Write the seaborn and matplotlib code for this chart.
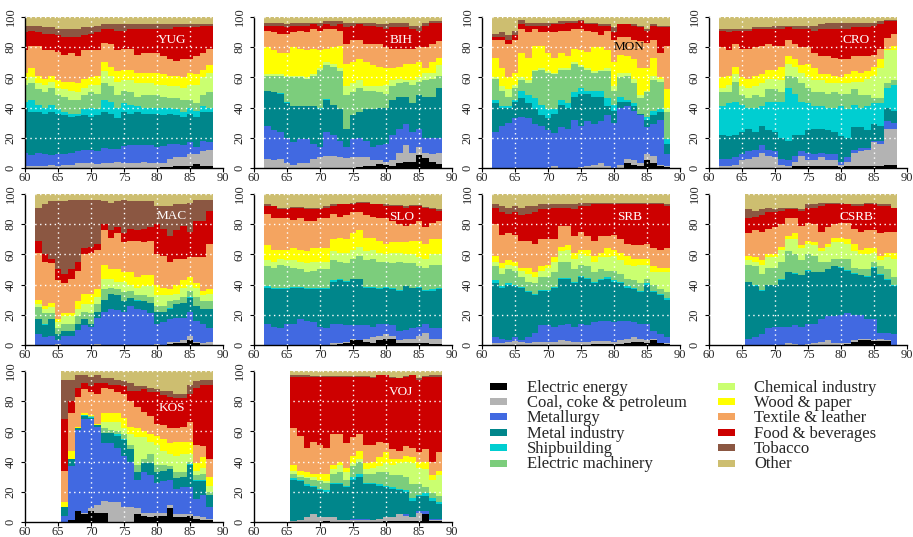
import numpy as np
import matplotlib
matplotlib.use('Agg')
import matplotlib.pyplot as plt
from matplotlib.patches import Rectangle
import seaborn as sns

# %% data
sectors = ['Electric energy', 'Coal, coke & petroleum', 'Metallurgy', 'Metal industry',
           'Shipbuilding', 'Electric machinery', 'Chemical industry', 'Wood & paper',
           'Textile & leather', 'Food & beverages', 'Tobacco', 'Other']
sector_colors = ['#000000', '#B3B3B3', '#4169E1', '#00868B', '#00CED1', '#7CCD7C',
                 '#CAFF70', '#FFFF00', '#F4A460', '#CD0000', '#8B5742', '#CDBE70']

# cumulative share (%) at the top of each sector band, sectors stacked bottom -> top
# (one row per sector, Electric energy .. Tobacco); 'Other' fills the rest up to 100
YUG_start = 1960
YUG = [
    [0, 0, 0, 0, 0, 0, 0, 0, 0, 0, 0, 0, 0, 0, 0, 0, 0, 0, 0, 0, 0.3, 0.5, 0.8, 1.5, 1.5, 1.5, 2.5, 1.5, 1.5],
    [1.5, 1.5, 1.5, 1, 2, 1.5, 2, 2, 3.5, 3.5, 3.5, 2.5, 3, 3.5, 4, 3.5, 3.5, 3.5, 4, 3.5, 3, 3.5, 6, 7.5, 7.5, 9.5, 9, 11.5, 12],
    [10, 8.5, 10, 9, 8.5, 9.5, 9.5, 10, 11, 12, 12, 11, 13, 12.5, 12.5, 14.5, 15, 15, 15, 15, 14, 14.5, 16, 16, 15.5, 17.5, 14, 18, 17],
    [40, 37, 37, 36, 37, 36, 35, 34, 34.5, 35, 34, 35, 37, 36, 33, 37, 36, 37, 36, 36, 36, 35, 36, 35, 34, 36, 33.5, 37, 37],
    [44, 45, 42, 40, 42, 39, 37, 36, 36, 39, 40, 39, 45, 44, 40, 43, 42, 41, 40, 40, 40, 40, 40, 39, 37, 40, 38, 41, 40],
    [55, 56, 52, 50, 53, 48, 47, 45, 45, 48, 50, 49, 56, 54, 48, 51, 50, 47, 48, 48, 48, 47, 46, 46, 45, 45, 43, 48, 50],
    [58, 60, 56, 55, 57, 53, 52, 51, 50, 53, 55, 55, 64, 61, 57, 58, 58, 56, 56, 56, 55, 55, 54, 54, 53, 55, 55, 60, 63],
    [63, 66, 61, 59, 61, 58, 57, 57, 56, 59, 60, 61, 70, 67, 64, 65, 65, 63, 63, 63, 63, 62, 61, 61, 60, 63, 62, 65, 68],
    [78, 81, 81, 78, 78, 77, 75, 76, 74, 78, 78, 78, 83, 82, 78, 79, 79, 75, 76, 76, 76, 74, 72, 71, 72, 72, 74, 76, 79],
    [90, 91, 90, 89, 89, 88, 87, 87, 87, 88, 89, 90, 92, 92, 91, 91, 92, 92, 92, 92, 92, 92, 92, 93, 93, 93, 93, 94, 94],
    [94, 94, 94, 93, 93, 92, 92, 92, 92, 93, 93, 94, 95, 95, 95, 95, 95, 95, 95, 95, 95, 95, 95, 95, 95, 95, 95, 95, 95],
]

BIH_start = 1962
BIH = [
    [0, 0, 0, 0, 0, 0, 0, 0, 0, 0, 0, 0, 0, 0.3, 0.5, 1, 1.5, 2.5, 2, 1.5, 3, 4, 4, 8.5, 6.5, 4, 2.5],
    [6, 5, 6, 3, 2, 3.5, 3, 6, 7, 8, 8, 7, 6.5, 7, 7, 7, 5, 5.5, 4, 5.5, 10, 15.5, 10, 14, 10, 9, 10],
    [28, 25, 24, 20, 17, 19, 19, 16, 14, 24, 22, 18, 14, 19, 20, 18, 14, 15, 16, 22, 26, 29, 24, 26, 20, 20, 20],
    [51, 50, 49, 43, 41, 41, 41, 41, 39, 45, 42, 39, 26, 35, 37, 39, 39, 40, 40, 45, 47, 47, 43, 48, 47, 47, 53],
    [51, 50.5, 49.5, 43.5, 41, 41, 41, 41, 40, 45.5, 42, 39, 26, 35, 37, 39, 39, 40, 40, 45, 47, 47, 43, 48, 47, 47, 53],
    [61, 61, 61, 60, 60, 60, 59, 61, 65, 68, 67, 64, 48, 50, 53, 51, 51, 50, 49, 54, 56, 57, 55, 57, 58, 59, 61],
    [62, 62, 62, 61, 61, 61, 60, 62, 66, 70, 69, 66, 54, 56, 58, 54, 54, 54, 55, 58, 59, 58, 58, 60, 63, 63, 68],
    [80, 78, 76, 76, 80, 79, 78, 79, 78, 79, 80, 81, 69, 70, 72, 70, 68, 67, 66, 66, 67, 69, 69, 70, 66, 70, 73],
    [91, 90, 89, 89, 90, 91, 90, 92, 91, 92, 92, 91, 82, 85, 85, 82, 82, 82, 80, 79, 79, 79, 79, 80, 80, 82, 84],
    [94, 94, 94, 93, 94, 94, 94, 95, 94, 95, 94, 95, 93, 94, 95, 94, 94, 93, 92, 93, 93, 93, 92, 91, 94, 96, 96],
    [96, 96, 96, 95, 96, 96, 96, 96, 96, 97, 97, 97, 96, 96, 96, 96, 96, 95, 95, 96, 96, 96, 94, 94, 96, 97, 97],
]

MON_start = 1962
MON = [
    [0, 0, 0, 0, 0, 0, 0, 0, 0, 0, 0, 0, 0, 0, 0, 0, 0, 0, 0, 0, 3, 2, 1, 5, 3, 1, 0.5],
    [0, 0, 0, 0, 0, 0, 0, 0, 0, 1, 0, 0, 0, 0.5, 1, 2, 3, 1, 0, 2, 6, 5, 3, 9, 8, 2, 1],
    [24, 28, 30, 33, 34, 33, 29, 28, 25, 23, 27, 26, 32, 28, 31, 29, 31, 35, 30, 40, 41, 38, 35, 27, 29, 32, 9],
    [43, 40, 40, 44, 46, 43, 39, 35, 33, 36, 42, 40, 47, 49, 49, 47, 47, 41, 38, 44, 44, 41, 36, 32, 35, 37, 16],
    [45, 41, 41, 45, 51, 48, 46, 42, 39, 39, 45, 43, 50, 53, 51, 51, 51, 46, 42, 47, 45, 43, 36, 34, 38, 39, 19],
    [59, 51, 47, 53, 58, 56, 64, 65, 63, 62, 65, 65, 69, 67, 65, 63, 64, 64, 51, 60, 61, 56, 46, 50, 58, 57, 37],
    [60, 54, 52, 55, 60, 58, 65, 66, 64, 63, 66, 66, 70, 68, 66, 64, 65, 66, 54, 63, 63, 59, 48, 51, 61, 59, 40],
    [73, 66, 60, 63, 76, 73, 81, 81, 76, 73, 76, 74, 79, 78, 77, 80, 80, 78, 70, 75, 74, 72, 66, 66, 73, 60, 52],
    [85, 85, 82, 85, 92, 90, 92, 90, 90, 90, 91, 91, 92, 92, 91, 90, 88, 91, 85, 87, 87, 85, 84, 83, 85, 76, 81],
    [87, 87, 85, 88, 95, 94, 94, 94, 94, 95, 95, 96, 96, 97, 95, 95, 94, 94, 90, 95, 95, 94, 93, 91, 94, 93, 93],
    [89, 90, 88, 91, 98, 96, 96, 96, 96, 96, 97, 97, 97, 98, 96, 96, 95, 95, 93, 95, 95, 95, 94, 92, 95, 94, 94],
]

CRO_start = 1962
CRO = [
    [0, 0, 0, 0, 0, 0, 0, 0, 0, 0, 0, 1, 1, 1, 1, 1, 1, 1, 0.5, 1, 1, 1, 1, 1, 1.5, 2, 2],
    [1, 1.5, 2, 5, 6, 7, 10, 8, 7, 2, 1, 4, 8, 5, 5, 7, 5, 5, 2, 4, 10, 11, 12, 17, 16, 26, 26],
    [6, 6, 7, 9, 11, 12, 15, 12, 11, 6, 5, 8, 11, 10, 9, 10, 9, 9, 4, 7, 12, 13, 13, 18, 18, 31, 30],
    [22, 21, 22, 24, 26, 24, 28, 25, 24, 20, 18, 22, 22, 25, 26, 26, 25, 24, 21, 20, 27, 27, 25, 29, 28, 40, 38],
    [41, 43, 44, 42, 40, 40, 41, 44, 44, 44, 53, 49, 44, 43, 41, 41, 40, 40, 41, 39, 42, 40, 41, 43, 43, 53, 55],
    [50, 50, 57, 48, 46, 48, 47, 52, 52, 50, 61, 60, 56, 53, 50, 50, 49, 50, 49, 49, 52, 48, 48, 46, 46, 56, 58],
    [53, 55, 62, 54, 53, 54, 56, 59, 59, 58, 69, 67, 63, 60, 58, 58, 56, 56, 56, 56, 57, 57, 59, 61, 66, 78, 78],
    [60, 61, 67, 60, 59, 61, 62, 65, 65, 67, 74, 72, 68, 69, 66, 62, 62, 61, 60, 62, 64, 63, 64, 67, 72, 79, 81],
    [80, 78, 82, 79, 79, 80, 81, 82, 81, 81, 85, 82, 80, 80, 76, 74, 74, 73, 72, 72, 74, 74, 74, 75, 79, 86, 89],
    [91, 90, 91, 91, 91, 92, 92, 92, 92, 92, 93, 92, 92, 92, 91, 92, 92, 92, 92, 92, 93, 93, 93, 94, 95, 97, 97],
    [92, 92, 92, 92, 92, 93, 93, 93, 94, 94, 94, 94, 94, 94, 94, 95, 96, 96, 96, 96, 96, 96, 96, 96, 97, 98, 98],
]

MAC_start = 1962
MAC = [
    [0, 0, 0, 0, 0, 0, 0, 0, 0, 0, 0, 0, 0, 0, 0, 0, 0, 0, 0, 0, 0.5, 1, 1.5, 3, 1, 0, 0],
    [0, 0, 0, 0.5, 0, 0, 0, 0, 0, 0.5, 0, 0, 0, 0, 0, 0, 0, 0, 0.5, 0, 2, 2, 3, 6, 2, 1, 2],
    [7, 5, 6, 3, 6, 6, 10, 13, 12, 18, 22, 24, 23, 22, 26, 24, 23, 21, 14, 15, 17, 18, 18, 22, 16, 14, 11],
    [17, 13, 17, 7, 9, 9, 14, 17, 14, 22, 30, 34, 33, 29, 31, 29, 29, 28, 22, 22, 24, 27, 28, 31, 26, 24, 24],
    [17.5, 14, 17.5, 7, 9, 9, 14, 17, 14, 22, 30, 34, 33, 29, 31, 29.5, 29, 28, 22, 22, 24.5, 27, 28, 32, 26, 24, 24],
    [25, 21, 21, 11, 14, 14, 19, 22, 21, 27, 37, 38, 37, 35, 36, 33, 33, 32, 26, 26, 29, 30, 32, 36, 32, 29, 29],
    [27, 24, 25, 15, 19, 19, 24, 27, 27, 32, 44, 44, 42, 42, 40, 38, 39, 39, 33, 33, 33, 34, 38, 40, 38, 33, 34],
    [30, 26, 28, 17, 21, 21, 29, 34, 34, 37, 53, 50, 50, 48, 48, 45, 46, 46, 40, 38, 37, 40, 43, 45, 41, 36, 37],
    [61, 55, 54, 43, 41, 44, 49, 60, 61, 63, 76, 71, 74, 68, 69, 69, 68, 69, 60, 59, 55, 57, 57, 58, 58, 58, 67],
    [69, 60, 57, 50, 47, 50, 55, 64, 65, 67, 80, 76, 78, 74, 77, 76, 77, 78, 80, 77, 72, 76, 79, 75, 82, 82, 89],
    [91, 93, 95, 95, 95, 96, 96, 96, 96, 96, 95, 94, 95, 96, 95, 95, 95, 95, 92, 92, 92, 93, 93, 94, 96, 96, 96],
]

SLO_start = 1962
SLO = [
    [0, 0, 0, 0, 0, 0, 0, 0, 0, 0, 0.3, 0.5, 1, 3, 3, 2, 1, 3, 4, 4, 1, 1, 1, 1.5, 1, 0.5, 0.5],
    [0, 0, 0, 0, 0, 0, 0, 0, 0, 0, 1, 1.5, 2, 4, 3.5, 4, 5, 6, 7, 6, 3, 4, 4, 6, 8, 4, 4],
    [14, 12, 11, 14, 14, 17, 16, 15, 12, 11, 14, 14, 13, 13, 13, 13, 12, 14, 14, 13, 9, 10, 11, 12, 14, 11, 11],
    [38, 37, 37, 37, 38, 38, 37, 37, 37, 37, 42, 43, 42, 44, 44, 38, 38, 37, 38, 37, 36, 39, 38, 38, 36, 36, 37],
    [39, 38, 37.5, 38, 38.5, 38.5, 37.5, 37.5, 37.5, 37.5, 43, 43.5, 42.5, 44, 44, 38.5, 38.5, 38, 38.5, 37.5, 36.5, 39, 38, 38.5, 36.5, 37, 38],
    [52, 51, 53, 52, 51, 50, 48, 49, 50, 50, 56, 55, 54, 57, 59, 56, 57, 55, 55, 54, 55, 54, 54, 52, 51, 53, 53],
    [56, 55, 57, 56, 56, 55, 54, 55, 55, 55, 62, 61, 61, 63, 65, 62, 63, 61, 60, 61, 61, 60, 60, 58, 57, 60, 60],
    [66, 63, 63, 63, 64, 63, 62, 64, 64, 64, 70, 71, 70, 74, 76, 71, 71, 69, 67, 68, 68, 68, 69, 69, 67, 70, 70],
    [87, 84, 84, 84, 83, 84, 82, 82, 84, 84, 87, 85, 86, 88, 88, 86, 85, 84, 84, 82, 80, 79, 80, 82, 78, 81, 82],
    [92, 92, 90, 90, 91, 91, 90, 90, 90, 91, 92, 93, 93, 93, 94, 94, 93, 93, 92, 92, 92, 91, 92, 92, 91, 90, 89],
    [93, 92, 90.5, 90.5, 91.5, 91.5, 91, 91, 91, 92, 93, 93.5, 93.5, 94, 94.5, 94.5, 93.5, 93.5, 93, 92.5, 92.5, 92, 92.5, 92.5, 91.5, 90.5, 90],
]

SRB_start = 1962
SRB = [
    [0, 0, 0, 0, 0, 0, 0, 0, 0, 0, 0, 0, 0, 0, 0.3, 0.5, 0.5, 0.5, 0.5, 0.5, 1, 2, 2, 1.5, 3, 1, 0.5],
    [1, 1.5, 2, 2.5, 2, 1.5, 2, 2, 2, 2, 3, 2.5, 2, 2, 2, 2.5, 2.5, 2.5, 2, 3.5, 4, 5, 4, 3.5, 4, 1.5, 1],
    [5, 4, 3, 5, 3, 5, 8, 13, 13, 12, 13, 14, 12, 14, 13, 15, 16, 16, 15, 16, 16, 15, 14, 14, 9, 7, 5],
    [41, 38, 40, 39, 38, 35, 33, 36, 36, 38, 44, 44, 41, 45, 44, 41, 43, 44, 42, 41, 38, 37, 35, 40, 35, 33, 30],
    [43, 39, 41, 39.5, 38.5, 35.5, 33.5, 36.5, 36.5, 38.5, 44.5, 44.5, 41.5, 45.5, 44.5, 42, 44, 45, 43, 42, 39, 38, 35.5, 41, 35.5, 34, 31],
    [52, 47, 50, 49, 45, 42, 41, 45, 45, 48, 55, 55, 50, 53, 52, 48, 50, 49, 49, 47, 44, 43, 41, 44, 40, 37, 35],
    [55, 51, 53, 52, 49, 47, 45, 49, 51, 55, 62, 63, 57, 60, 59, 55, 58, 58, 59, 56, 53, 52, 53, 53, 48, 48, 48],
    [59, 54, 56, 55, 51, 51, 48, 52, 53, 58, 65, 66, 61, 63, 63, 59, 61, 64, 63, 61, 59, 57, 57, 57, 52, 51, 51],
    [80, 73, 74, 73, 69, 69, 67, 70, 70, 70, 79, 79, 72, 75, 72, 69, 72, 72, 73, 70, 67, 66, 66, 67, 64, 63, 64],
    [91, 88, 87, 88, 86, 87, 88, 90, 90, 91, 91, 91, 90, 92, 92, 93, 93, 93, 93, 93, 93, 93, 93, 93, 93, 93, 92],
    [93, 92, 91, 92, 91, 92, 92, 93, 93, 93, 93, 93, 93, 94, 94, 94, 94, 94, 94, 94, 94, 94, 94, 94, 94, 94, 93],
]

CSRB_start = 1966
CSRB = [
    [0, 0, 0, 0, 0, 0, 0, 0, 0, 0, 0, 0, 0, 0, 0, 0.5, 2, 3, 3, 2.5, 2.5, 2.5, 0],
    [0, 0, 0, 0, 0, 0, 1, 0.5, 0, 0.5, 1, 2, 3, 1, 1, 1, 3, 4, 4, 3, 4, 3, 0],
    [4, 5, 7, 11, 12, 12, 12, 13, 12, 14, 14, 17, 19, 19, 20, 21, 20, 20, 17, 17, 8, 8, 7],
    [42, 39, 36, 40, 40, 43, 48, 47, 46, 49, 48, 48, 50, 52, 51, 49, 47, 46, 45, 51, 46, 43, 39],
    [42, 39.5, 36.5, 40, 40, 43.5, 48.5, 47.5, 46.5, 49.5, 48.5, 48.5, 50.5, 52.5, 51.5, 49.5, 47.5, 46.5, 45.5, 51.5, 47, 43.5, 39.5],
    [53, 52, 47, 51, 51, 55, 62, 60, 56, 60, 59, 55, 55, 57, 57, 57, 51, 50, 50, 55, 52, 50, 45],
    [56, 55, 53, 58, 58, 63, 70, 70, 64, 67, 66, 62, 65, 68, 68, 67, 62, 60, 60, 61, 56, 58, 57],
    [59, 58, 56, 60, 60, 65, 72, 74, 66, 69, 68, 64, 67, 71, 71, 70, 67, 63, 64, 64, 59, 61, 61],
    [74, 76, 75, 77, 78, 80, 84, 84, 79, 81, 80, 75, 78, 80, 81, 81, 77, 75, 76, 76, 74, 75, 75],
    [84, 85, 86, 88, 88, 89, 90, 90, 89, 91, 91, 92, 93, 93, 93, 93, 92, 92, 93, 93, 92, 92, 91],
    [90, 89, 90, 91, 90, 91, 91, 91, 90, 93, 93, 94, 94, 94, 94, 93, 93, 93, 94, 94, 93, 93, 91],
]

KOS_start = 1966
KOS = [
    [0, 1, 7, 5, 7, 6, 6, 0, 0, 0, 0, 5, 4, 3, 4, 4, 9, 3, 3, 4, 2, 1.5, 1],
    [0, 1, 7, 6, 9, 11, 14, 13, 13, 10, 10, 9, 6, 6, 6, 6, 11, 5, 5, 5, 4, 3, 2],
    [4, 37, 61, 68, 68, 63, 52, 52, 49, 44, 40, 28, 33, 31, 26, 27, 28, 22, 23, 23, 15, 18, 10],
    [10, 42, 62, 70, 69, 64, 59, 59, 57, 54, 48, 33, 39, 39, 33, 34, 35, 29, 30, 38, 27, 27, 18],
    [10, 42, 62, 70.5, 69.5, 64, 59, 59, 58, 55, 48, 33, 39, 39, 33, 34, 35, 29, 30, 38.5, 27.5, 27.5, 18],
    [10, 42, 62, 71, 70, 64, 62, 61, 60, 58, 51, 38, 42, 45, 38, 38, 37, 33, 33, 40, 31, 32, 20],
    [10, 42, 62, 71, 70, 64, 66, 66, 66, 62, 58, 56, 56, 53, 51, 47, 45, 44, 45, 45, 34, 36, 24],
    [13, 47, 63, 72, 71, 65, 72, 72, 72, 69, 63, 62, 60, 58, 57, 55, 52, 53, 53, 53, 39, 43, 30],
    [34, 72, 83, 88, 86, 85, 89, 88, 86, 85, 80, 76, 73, 70, 65, 64, 62, 62, 63, 66, 51, 50, 42],
    [68, 80, 89, 92, 90, 92, 92, 91, 91, 90, 87, 87, 88, 86, 86, 84, 83, 82, 82, 85, 89, 91, 91],
    [94, 94, 97, 97, 96, 97, 95, 95, 94, 93, 92, 90, 90, 89, 88, 87, 87, 85, 85, 91, 93, 94, 94],
]

VOJ_start = 1966
VOJ = [
    [0, 0, 0, 0, 0, 0.5, 0, 0, 0, 0, 0, 0, 0, 0, 0.5, 0.5, 0.5, 0.5, 0.5, 0.5, 5, 0.5, 0.5],
    [0.5, 1, 3, 5, 3, 3, 3, 1, 1, 1.5, 1.5, 1.5, 1.5, 2, 3, 3, 5, 4, 3, 6, 5.5, 1.5, 1.5],
    [0.5, 1, 3, 5, 3.5, 3.5, 3.5, 1, 1, 2, 2, 2, 1.5, 2, 3, 3.5, 5, 5, 3.5, 7, 7, 2, 2],
    [28, 27, 24, 23, 21, 20, 25, 25, 23, 28, 30, 25, 25, 24, 23, 22, 21, 20, 14, 17, 17, 14, 12],
    [29, 28, 25, 24, 22, 21, 26, 26, 24, 30, 32, 26, 26, 25, 24, 23, 22, 21, 16, 18, 19, 16, 13],
    [32, 30, 29, 28, 27, 26, 32, 33, 28, 37, 40, 32, 32, 33, 33, 31, 31, 30, 25, 25, 23, 19, 17],
    [34, 31, 30, 30, 28, 27, 35, 38, 33, 39, 42, 35, 36, 37, 39, 38, 39, 40, 39, 36, 35, 28, 31],
    [38, 34, 33, 32, 32, 32, 38, 40, 36, 44, 47, 39, 40, 43, 46, 42, 42, 44, 43, 40, 40, 31, 34],
    [62, 57, 49, 53, 51, 49, 58, 58, 52, 56, 58, 51, 51, 53, 52, 48, 47, 50, 49, 46, 48, 40, 46],
    [96, 96, 96, 96, 96, 96, 96, 96, 96, 96, 96, 96, 95, 97, 97, 95, 95, 96, 97, 94, 96, 96, 96],
    [97, 97.5, 97, 96.5, 96.5, 96.5, 96.5, 96.5, 96.5, 96.5, 96.5, 96.5, 96, 97.5, 97.5, 96, 95.5, 96.5, 97.5, 95, 96.5, 97, 97],
]

regions = ['YUG', 'BIH', 'MON', 'CRO', 'MAC', 'SLO', 'SRB', 'CSRB', 'KOS', 'VOJ']
region_start = [YUG_start, BIH_start, MON_start, CRO_start, MAC_start,
                SLO_start, SRB_start, CSRB_start, KOS_start, VOJ_start]
region_tops = [YUG, BIH, MON, CRO, MAC, SLO, SRB, CSRB, KOS, VOJ]

# %% layout (pixels of a 913 x 537 canvas)
W, H = 913, 537
col_left = [25, 254, 482, 709]
row_top = [16, 193, 370]
pw, ph = 198, 152
label_y = [85, 85, 80, 85, 85.5, 85, 85, 85, 75.7, 86]
label_color = ['white', 'white', 'black', 'white', 'white', 'white', 'white', 'white', 'white', 'white']

sns.set_style('ticks')
plt.rcParams['font.family'] = ['Liberation Serif', 'DejaVu Serif']

fig = plt.figure(figsize=(W / 100, H / 100), dpi=100)

for k, (name, start, tops) in enumerate(zip(regions, region_start, region_tops)):
    row, col = divmod(k, 4)
    ax = fig.add_axes([col_left[col] / W, (H - row_top[row] - ph) / H, pw / W, ph / H])
    tops = np.maximum.accumulate(np.array(tops, dtype=float), axis=0)
    yrs = np.arange(start, start + tops.shape[1]) - 1900
    edges = np.append(yrs - 0.5, yrs[-1] + 0.5)
    bands = np.vstack([tops, np.full(tops.shape[1], 100.0)])
    # paint from the top band down so neighbouring bands leave no seams
    for i in range(len(sectors) - 1, -1, -1):
        y = np.append(bands[i], bands[i][-1])
        ax.fill_between(edges, 0, y, step='post', color=sector_colors[i], lw=0, zorder=1)

    for gx in range(65, 90, 5):
        ax.axvline(gx, color='white', lw=1, ls=(0, (1, 2.5)), zorder=3)
    for gy in range(20, 101, 20):
        ax.axhline(gy, color='white', lw=1, ls=(0, (1, 2.5)), zorder=3)

    ax.set_xlim(60, 90)
    ax.set_ylim(0, 100.6)
    ax.set_xticks(range(60, 91, 5))
    ax.set_yticks(range(0, 101, 20))
    ax.tick_params(axis='both', labelsize=9, length=3, width=0.8, color='black')
    ax.tick_params(axis='x', pad=0)
    ax.tick_params(axis='y', labelrotation=90, pad=3)
    for lbl in ax.get_yticklabels():
        lbl.set_va('center')
    sns.despine(ax=ax)
    ax.spines['left'].set_bounds(0, 100)
    ax.spines['bottom'].set_bounds(60, 90)
    for s in ['left', 'bottom']:
        ax.spines[s].set_linewidth(1)
        ax.spines[s].set_color('black')
    ax.set_facecolor('none')

    ax.text(82.3, label_y[k], name, color=label_color[k], fontsize=9.5,
            ha='center', va='center', zorder=4)

# %% legend, two columns of six
lg = fig.add_axes([0, 0, 1, 1])
lg.set_xlim(0, W)
lg.set_ylim(H, 0)
lg.axis('off')
patch_x = [490, 718]
text_x = [527, 754]
for i, (lab, c) in enumerate(zip(sectors, sector_colors)):
    cidx, r = divmod(i, 6)
    yc = 386 + 15.4 * r
    lg.add_patch(Rectangle((patch_x[cidx], yc - 3.5), 17, 7, color=c, lw=0))
    lg.text(text_x[cidx], yc + 5.5, lab, fontsize=12, va='baseline', ha='left')

fig.savefig('out.png', dpi=100)
